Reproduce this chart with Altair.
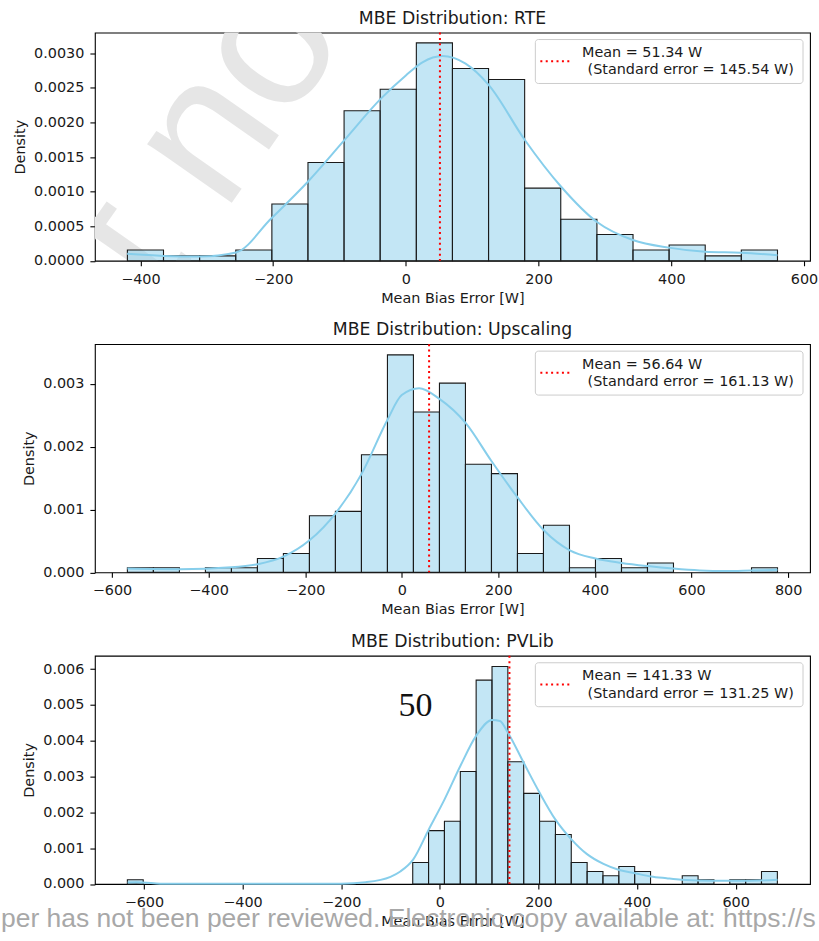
import altair as alt
import pandas as pd

# ---------------- data ----------------
titles = ["MBE Distribution: RTE", "MBE Distribution: Upscaling", "MBE Distribution: PVLib"]
means = [51.34, 56.64, 141.33]
std_errors = [145.54, 161.13, 131.25]

# RTE histogram (bin edges and densities)
rte_edges = [-419.6, -365.2, -310.8, -256.3, -201.9, -147.5, -93.1, -38.7, 15.8, 70.2,
             124.6, 179.0, 233.4, 287.9, 342.3, 396.7, 451.1, 505.5, 560.0]
rte_density = [0.000155, 0.00007, 0.00007, 0.000155, 0.00082, 0.00142, 0.00217, 0.00248, 0.00315,
               0.00278, 0.00262, 0.00105, 0.0006, 0.00038, 0.000155, 0.000227, 0.00007, 0.000155]
rte_kde_x = [-420, -365, -310, -256, -203, -147, -93, -38, 0, 25, 55, 90, 125, 179, 234, 288, 342,
             396, 451, 505, 560]
rte_kde_y = [0.0001, 0.00007, 0.00006, 0.00012, 0.00061, 0.00115, 0.00174, 0.00234, 0.00268, 0.00287,
             0.00296, 0.00285, 0.00254, 0.00175, 0.00107, 0.00056, 0.0003, 0.00019, 0.00013, 0.000115,
             0.00008]

# Upscaling histogram
ups_edges = [-568.0, -514.2, -460.3, -406.5, -352.6, -298.8, -245.0, -191.1, -137.3, -83.4, -29.6,
             24.2, 78.1, 131.9, 185.8, 239.6, 293.4, 347.3, 401.1, 455.0, 508.8, 562.6, 616.5,
             670.3, 724.2, 778.0]
ups_density = [0.000073, 0.000073, 0.0, 0.000073, 0.000073, 0.00022, 0.0003, 0.0009, 0.00097,
               0.00187, 0.00346, 0.00255, 0.00301, 0.00172, 0.00157, 0.0003, 0.00075, 0.000073,
               0.00022, 0.000073, 0.00015, 0.0, 0.0, 0.0, 0.000073]
ups_kde_x = [-568, -460, -353, -298, -245, -191, -137, -83, -30, 0, 36, 78, 133, 185, 239, 294, 348,
             401, 455, 509, 562, 617, 671, 725, 778]
ups_kde_y = [0.00006, 0.00005, 0.00008, 0.00013, 0.00025, 0.00051, 0.00094, 0.00157, 0.00242,
             0.00282, 0.00293, 0.00276, 0.00237, 0.00178, 0.0012, 0.00067, 0.00035, 0.00022, 0.00015,
             0.0001, 0.00006, 0.00003, 0.00002, 0.00003, 0.00004]

# PVLib histogram
pvl_edges = [-633.5, -601.4, -569.2, -537.1, -504.9, -472.8, -440.6, -408.5, -376.3, -344.2,
             -312.0, -279.9, -247.7, -215.6, -183.4, -151.3, -119.1, -87.0, -54.8, -22.7, 9.5,
             41.7, 73.8, 106.0, 138.1, 170.3, 202.4, 234.6, 266.7, 298.9, 331.0, 363.2, 395.3,
             427.5, 459.6, 491.8, 523.9, 556.1, 588.2, 620.4, 652.5, 684.7]
pvl_density = [0.00012, 0, 0, 0, 0, 0, 0, 0, 0, 0, 0, 0, 0, 0, 0, 0, 0, 0,
               0.0006, 0.00149, 0.00175, 0.00314, 0.00569, 0.00607, 0.00341, 0.00253, 0.00175,
               0.00138, 0.0006, 0.00035, 0.00023, 0.00049, 0.00035, 0, 0, 0.00023, 0.00012, 0,
               0.00012, 0.00012, 0.00035]
pvl_kde_x = [-633, -615, -580, -550, -300, -200, -150, -100, -80, -54, -22, 10, 42, 74, 106, 122,
             138, 170, 202, 234, 266, 298, 332, 364, 396, 428, 460, 490, 554, 620, 685]
pvl_kde_y = [0.00004, 0.00005, 0.00002, 0.000005, 0.000005, 0.00001, 0.00005, 0.0002, 0.00035,
             0.00068, 0.00153, 0.00237, 0.0033, 0.00414, 0.00458, 0.00455, 0.00423, 0.00339,
             0.00256, 0.00181, 0.00126, 0.00084, 0.00056, 0.00039, 0.0003, 0.00021, 0.00016,
             0.00012, 0.00009, 0.00009, 0.00012]

x_domains = [[-468.6, 609.0], [-635.3, 845.3], [-699.4, 750.9]]
y_tops = [0.0033, 0.00363, 0.00637]
x_ticks = [[-400, -200, 0, 200, 400, 600],
           [-600, -400, -200, 0, 200, 400, 600, 800],
           [-600, -400, -200, 0, 200, 400, 600]]
y_ticks = [[0, 0.0005, 0.001, 0.0015, 0.002, 0.0025, 0.003],
           [0, 0.001, 0.002, 0.003],
           [0, 0.001, 0.002, 0.003, 0.004, 0.005, 0.006]]
y_formats = [".4f", ".3f", ".3f"]

watermark_text = ["Preprint not peer reviewed"]
footer_text = ["per has not been peer reviewed. Electronic copy available at: https://s"]
page_number = ["50"]

W, H = 716, 228.5
FONT = "DejaVu Sans"
TXT = "#1a1a1a"


def make_panel(i, edges, dens, kde_x, kde_y, extra_back=(), extra_front=()):
    xs = alt.Scale(domain=x_domains[i], nice=False, zero=False)
    ys = alt.Scale(domain=[0, y_tops[i]], nice=False, zero=False)
    x_axis = alt.Axis(values=x_ticks[i], format="d", title="Mean Bias Error [W]",
                      labelFlush=False, labelOverlap=False)
    y_axis = alt.Axis(values=y_ticks[i], format=y_formats[i], title="Density",
                      labelFlush=False, labelOverlap=False)

    hist = pd.DataFrame({"left": edges[:-1], "right": edges[1:], "density": dens})
    hist = hist[hist["density"] > 0].assign(base=0.0)
    bars = alt.Chart(hist).mark_rect(
        fill="#87CEEB", fillOpacity=0.5, stroke="#1a1a1a", strokeWidth=1.1
    ).encode(
        x=alt.X("left:Q", scale=xs, axis=x_axis),
        x2="right:Q",
        y=alt.Y("density:Q", scale=ys, axis=y_axis),
        y2="base:Q",
    )

    kde = alt.Chart(pd.DataFrame({"x": kde_x, "y": kde_y})).mark_line(
        color="#87CEEB", strokeWidth=2, interpolate="monotone"
    ).encode(
        x=alt.X("x:Q", scale=xs, axis=x_axis),
        y=alt.Y("y:Q", scale=ys, axis=y_axis),
    )

    mean_rule = alt.Chart(pd.DataFrame({"mean": [means[i]]})).mark_rule(
        color="red", strokeWidth=2, strokeDash=[2, 3.4]
    ).encode(
        x=alt.X("mean:Q", scale=xs, axis=x_axis),
        y=alt.value(0),
        y2=alt.value(H),
    )

    leg_df = pd.DataFrame({
        "l1": [f"Mean = {means[i]:.2f} W"],
        "l2": [f"(Standard error = {std_errors[i]:.2f} W)"],
    })
    leg_box = alt.Chart(leg_df).mark_rect(
        fill="white", fillOpacity=0.8, stroke="#cccccc", strokeWidth=1, cornerRadius=3
    ).encode(x=alt.value(441), x2=alt.value(709), y=alt.value(7), y2=alt.value(51))
    leg_line = alt.Chart(leg_df).mark_rule(
        color="red", strokeWidth=2, strokeDash=[2, 3.4]
    ).encode(x=alt.value(446), x2=alt.value(475), y=alt.value(28.7))
    leg_t1 = alt.Chart(leg_df).mark_text(
        align="left", baseline="middle", font=FONT, fontSize=14.4, color=TXT
    ).encode(x=alt.value(487.7), y=alt.value(20.5), text="l1:N")
    leg_t2 = alt.Chart(leg_df).mark_text(
        align="left", baseline="middle", font=FONT, fontSize=14.4, color=TXT
    ).encode(x=alt.value(493.3), y=alt.value(37.8), text="l2:N")

    layers = list(extra_back) + [bars, kde, mean_rule, leg_box, leg_line, leg_t1, leg_t2] + list(extra_front)
    return alt.layer(*layers).properties(
        width=W, height=H,
        title=alt.TitleParams(text=titles[i], fontSize=17.3, font=FONT, fontWeight="normal",
                              color=TXT, offset=-13.6, baseline="bottom"),
    )


watermark = alt.Chart(pd.DataFrame({"t": watermark_text})).mark_text(
    font="Liberation Sans", fontSize=195, color="#e6e6e6", angle=305,
    align="left", baseline="alphabetic", clip=True
).encode(x=alt.value(-293.5), y=alt.value(785), text="t:N")

footer = alt.Chart(pd.DataFrame({"t": footer_text})).mark_text(
    font="Liberation Sans", fontSize=26.5, color="#a8a8a8", align="left", baseline="middle"
).encode(x=alt.value(-94), y=alt.value(264), text="t:N")

pagenum = alt.Chart(pd.DataFrame({"t": page_number})).mark_text(
    font="Liberation Serif", fontSize=34, color="#111111", align="center", baseline="middle"
).encode(x=alt.value(321), y=alt.value(50), text="t:N")

p1 = make_panel(0, rte_edges, rte_density, rte_kde_x, rte_kde_y, extra_back=[watermark])
p2 = make_panel(1, ups_edges, ups_density, ups_kde_x, ups_kde_y)
p3 = make_panel(2, pvl_edges, pvl_density, pvl_kde_x, pvl_kde_y,
                extra_back=[pagenum], extra_front=[footer])

chart = alt.vconcat(p1, p2, p3, spacing=83, bounds="flush").properties(
    padding={"left": 0, "top": 8, "right": 0, "bottom": 0},
    background="white",
).configure_view(
    stroke="black", strokeWidth=1.1
).configure_axis(
    domain=False, grid=False, tickColor="black", tickSize=5, tickWidth=1.1,
    labelFont=FONT, labelFontSize=14.4, labelColor=TXT,
    titleFont=FONT, titleFontSize=14.4, titleFontWeight="normal", titleColor=TXT,
).configure_axisX(
    labelPadding=6.5, titlePadding=5.7
).configure_axisY(
    labelPadding=6, titlePadding=6
)

chart.save("out.html", embed_options={"renderer": "svg", "actions": False})
